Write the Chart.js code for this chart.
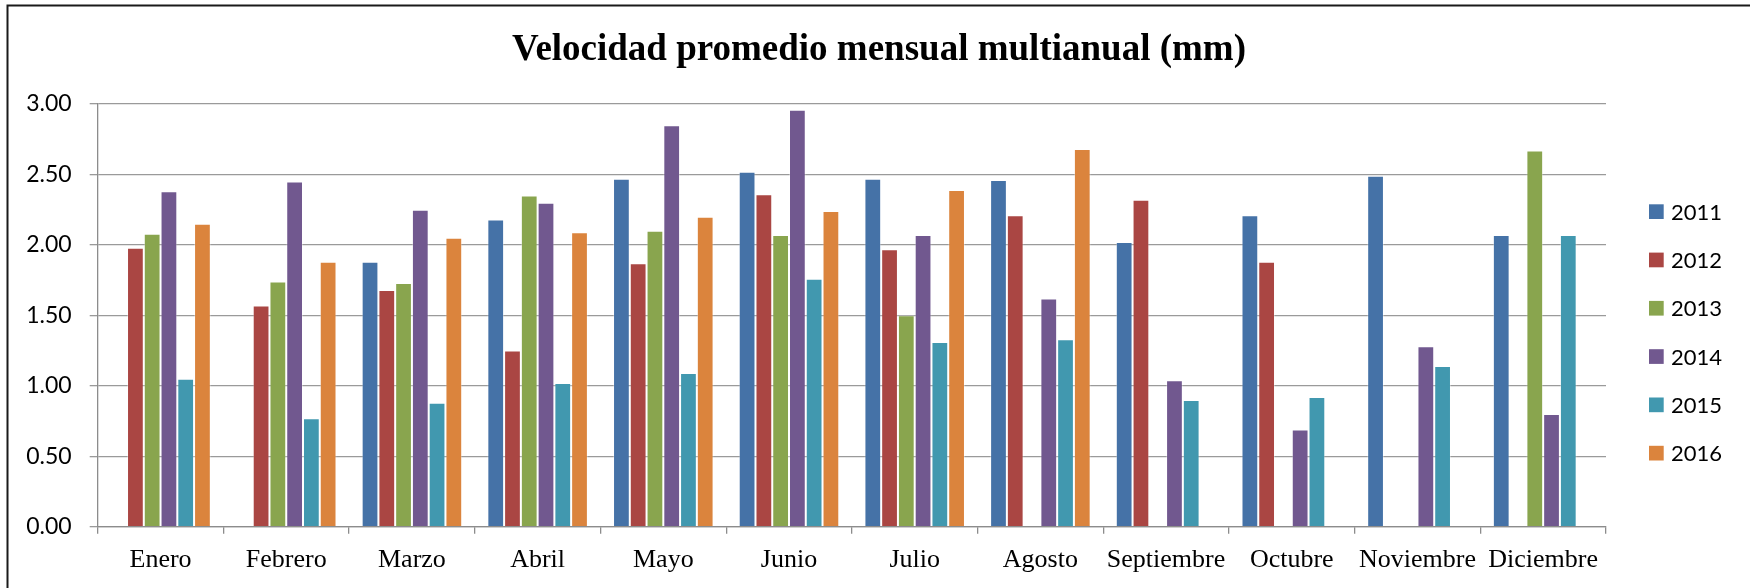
<!DOCTYPE html>
<html>
<head>
<meta charset="utf-8">
<script src="https://cdn.jsdelivr.net/npm/chart.js@4/dist/chart.umd.min.js"></script>
<style>
  html, body { margin: 0; padding: 0; background: #ffffff; }
  #wrap { width: 1750px; height: 588px; }
</style>
</head>
<body>
<div id="wrap"><canvas id="c" width="1750" height="588"></canvas></div>
<script>
const categories = ['Enero','Febrero','Marzo','Abril','Mayo','Junio','Julio','Agosto','Septiembre','Octubre','Noviembre','Diciembre'];
const seriesNames = ['2011','2012','2013','2014','2015','2016'];
const v2011 = [null, null, 1.88, 2.18, 2.47, 2.52, 2.47, 2.46, 2.02, 2.21, 2.49, 2.07];
const v2012 = [1.98, 1.57, 1.68, 1.25, 1.87, 2.36, 1.97, 2.21, 2.32, 1.88, null, null];
const v2013 = [2.08, 1.74, 1.73, 2.35, 2.10, 2.07, 1.50, null, null, null, null, 2.67];
const v2014 = [2.38, 2.45, 2.25, 2.30, 2.85, 2.96, 2.07, 1.62, 1.04, 0.69, 1.28, 0.80];
const v2015 = [1.05, 0.77, 0.88, 1.02, 1.09, 1.76, 1.31, 1.33, 0.90, 0.92, 1.14, 2.07];
const v2016 = [2.15, 1.88, 2.05, 2.09, 2.20, 2.24, 2.39, 2.68, null, null, null, null];
const yTicks = [0, 0.5, 1, 1.5, 2, 2.5, 3];
const colors = ['#4572A7','#AA4643','#89A54E','#71588F','#4198AF','#DB843D'];
const titleText = 'Velocidad promedio mensual multianual (mm)';

const allValues = [v2011, v2012, v2013, v2014, v2015, v2016];
const datasets = seriesNames.map((name, i) => ({
  label: name,
  data: allValues[i],
  backgroundColor: colors[i],
  borderColor: 'rgba(255,255,255,0.35)',
  borderWidth: 1,
  categoryPercentage: 0.8,
  barPercentage: 1.0
}));

const frame = {
  id: 'frame',
  afterDraw(chart) {
    const ctx = chart.ctx;
    ctx.save();
    ctx.strokeStyle = '#1a1a1a';
    ctx.lineWidth = 2;
    ctx.beginPath();
    ctx.moveTo(7.5, 600);
    ctx.lineTo(7.5, 5.5);
    ctx.lineTo(1760, 5.5);
    ctx.stroke();
    ctx.fillStyle = '#000000';
    ctx.font = 'bold 37px "Liberation Serif"';
    ctx.textAlign = 'center';
    ctx.textBaseline = 'alphabetic';
    ctx.fillText(titleText, 879, 59.5);
    ctx.restore();
  }
};

const sideLegend = {
  id: 'sideLegend',
  afterDraw(chart) {
    const ctx = chart.ctx;
    ctx.save();
    ctx.font = '22px Lato';
    ctx.textBaseline = 'middle';
    ctx.textAlign = 'left';
    chart.data.datasets.forEach((ds, i) => {
      const cy = 211.7 + i * 48.3;
      ctx.fillStyle = ds.backgroundColor;
      ctx.fillRect(1649, cy - 7.4, 14.7, 14.7);
      ctx.fillStyle = '#000000';
      ctx.fillText(ds.label, 1671, cy + 1);
    });
    ctx.restore();
  }
};

new Chart(document.getElementById('c'), {
  type: 'bar',
  data: { labels: categories, datasets: datasets },
  options: {
    responsive: false,
    animation: false,
    layout: { padding: { left: 0, right: 144, top: 104, bottom: 0 } },
    plugins: {
      legend: { display: false },
      tooltip: { enabled: false },
      title: { display: false }
    },
    scales: {
      x: {
        afterFit(scale) { scale.height = 61.3; },
        grid: { display: true, drawOnChartArea: false, drawTicks: true, tickLength: 7, color: '#8c8c8c', lineWidth: 1.3, offset: true },
        border: { display: true, color: '#8c8c8c', width: 1.3 },
        ticks: { color: '#000000', font: { family: 'Liberation Serif', size: 26 }, padding: 10.5, maxRotation: 0, autoSkip: false }
      },
      y: {
        min: 0,
        max: 3,
        afterFit(scale) { scale.width = 97.7; },
        afterBuildTicks(scale) { scale.ticks = yTicks.map(v => ({ value: v })); },
        grid: { color: '#9a9a9a', lineWidth: 1.3, tickLength: 8, drawTicks: true },
        border: { display: true, color: '#8c8c8c', width: 1.3 },
        ticks: {
          color: '#000000',
          font: { family: 'Lato', size: 23 },
          padding: 18,
          callback: (v) => Number(v).toFixed(2)
        }
      }
    }
  },
  plugins: [frame, sideLegend]
});
</script>
</body>
</html>
